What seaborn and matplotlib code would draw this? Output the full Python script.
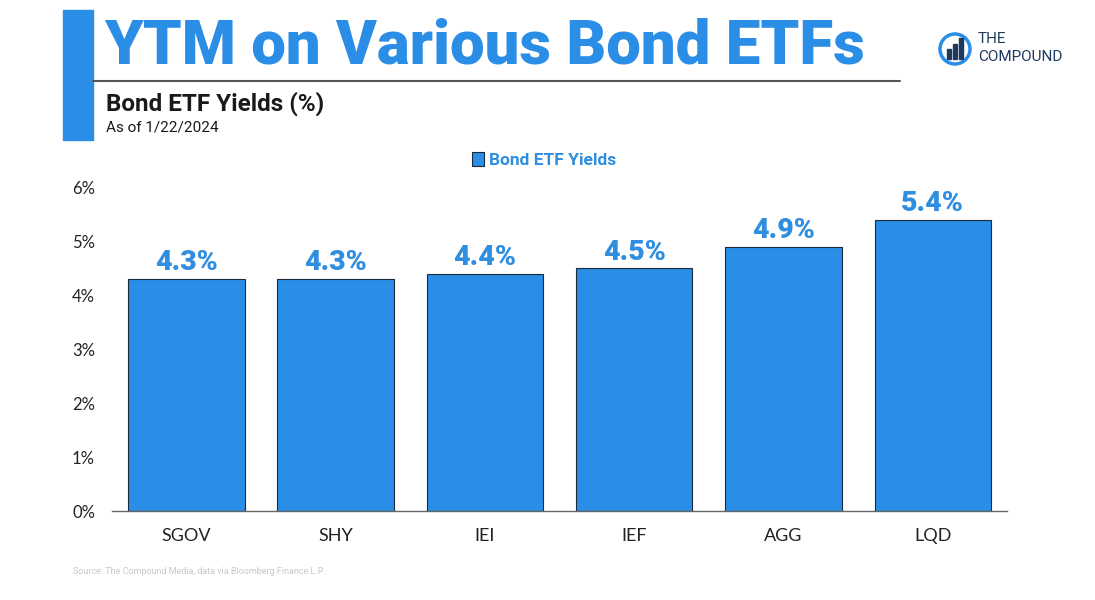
import pandas as pd
import matplotlib.pyplot as plt
import matplotlib.patches as mpatches
import seaborn as sns

# Data
tickers = ['SGOV', 'SHY', 'IEI', 'IEF', 'AGG', 'LQD']
yields = [4.3, 4.3, 4.4, 4.5, 4.9, 5.4]
yticks = [0, 1, 2, 3, 4, 5, 6]
ytick_labels = ['0%', '1%', '2%', '3%', '4%', '5%', '6%']

df = pd.DataFrame({'ETF': tickers, 'Yield': yields})

BLUE = '#2a8de6'
LABEL_BLUE = '#2f8edf'
NAVY = '#1f3a5f'

sns.set_style("white")
plt.rcParams['font.family'] = ['Roboto', 'DejaVu Sans']

fig = plt.figure(figsize=(10.95, 6.0), dpi=100)
ax = fig.add_axes([0.102, 0.148, 0.818, 0.540])

sns.barplot(data=df, x='ETF', y='Yield', color=BLUE, edgecolor='#1a2a3a',
            linewidth=0.8, width=0.78, saturation=1, ax=ax)

# value labels
for i, v in enumerate(yields):
    ax.text(i, v + 0.05, f'{v}%', ha='center', va='bottom', fontsize=20.5,
            fontweight='black', color=LABEL_BLUE, clip_on=False)

ax.set_ylim(0, 6)
ax.set_xlim(-0.5, 5.5)
ax.set_yticks(yticks)
ax.set_yticklabels(ytick_labels, fontsize=12, color='#222222', family=['Lato', 'DejaVu Sans'])
ax.set_xticklabels(tickers, fontsize=13, color='#222222', family=['Lato', 'DejaVu Sans'])
ax.tick_params(axis='y', length=0, pad=12)
ax.tick_params(axis='x', length=0, pad=12)
ax.set_xlabel('')
ax.set_ylabel('')
for side in ['top', 'right', 'left']:
    ax.spines[side].set_visible(False)
ax.spines['bottom'].set_color('#666666')
ax.spines['bottom'].set_linewidth(1)

# legend
handle = mpatches.Patch(facecolor=BLUE, edgecolor='#1a2a3a', linewidth=0.8, label='Bond ETF Yields')
leg = fig.legend(handles=[handle], loc='center', bbox_to_anchor=(0.497, 0.733), frameon=False,
                 handlelength=0.7, handleheight=0.8, handletextpad=0.3,
                 prop={'weight': 'bold', 'size': 12.5})
for t in leg.get_texts():
    t.set_color(LABEL_BLUE)

# header block
fig.patches.append(mpatches.Rectangle((63 / 1095, 1 - 140 / 600), 30 / 1095, 130 / 600,
                                      transform=fig.transFigure, color=BLUE, zorder=0))
fig.lines.append(plt.Line2D([93 / 1095, 900 / 1095], [1 - 81 / 600, 1 - 81 / 600],
                            transform=fig.transFigure, color='#555555', linewidth=1.5))
fig.text(104 / 1095, 1 - 47 / 600, 'YTM on Various Bond ETFs', fontsize=44.5, fontweight='black',
         color=BLUE, ha='left', va='center')
fig.text(106 / 1095, 1 - 104 / 600, 'Bond ETF Yields (%)', fontsize=17.5, fontweight='bold',
         color='#1a1a1a', ha='left', va='center')
fig.text(106 / 1095, 1 - 127 / 600, 'As of 1/22/2024', fontsize=11,
         color='#1a1a1a', ha='left', va='center')

# logo
fig.patches.append(mpatches.Ellipse((955 / 1095, 1 - 49 / 600), 30 / 1095, 30 / 600,
                                    transform=fig.transFigure, fill=False,
                                    edgecolor=BLUE, linewidth=2.5))
for dx, h in [(-6, 10), (0, 15), (6, 21)]:
    fig.patches.append(mpatches.Rectangle(((955 + dx - 2) / 1095, 1 - (49 + 10) / 600),
                                          4 / 1095, h / 600,
                                          transform=fig.transFigure, color=NAVY))
fig.text(978 / 1095, 1 - 46 / 600, 'THE', fontsize=11, color=NAVY, ha='left', va='bottom')
fig.text(978 / 1095, 1 - 50 / 600, 'COMPOUND', fontsize=11, color=NAVY, ha='left', va='top')

# source
fig.text(73 / 1095, 1 - 572 / 600, 'Source: The Compound Media, data via Bloomberg Finance L.P.',
         fontsize=6.5, color='#c8c8c8', ha='left', va='center')

plt.savefig('out.png', dpi=100)
